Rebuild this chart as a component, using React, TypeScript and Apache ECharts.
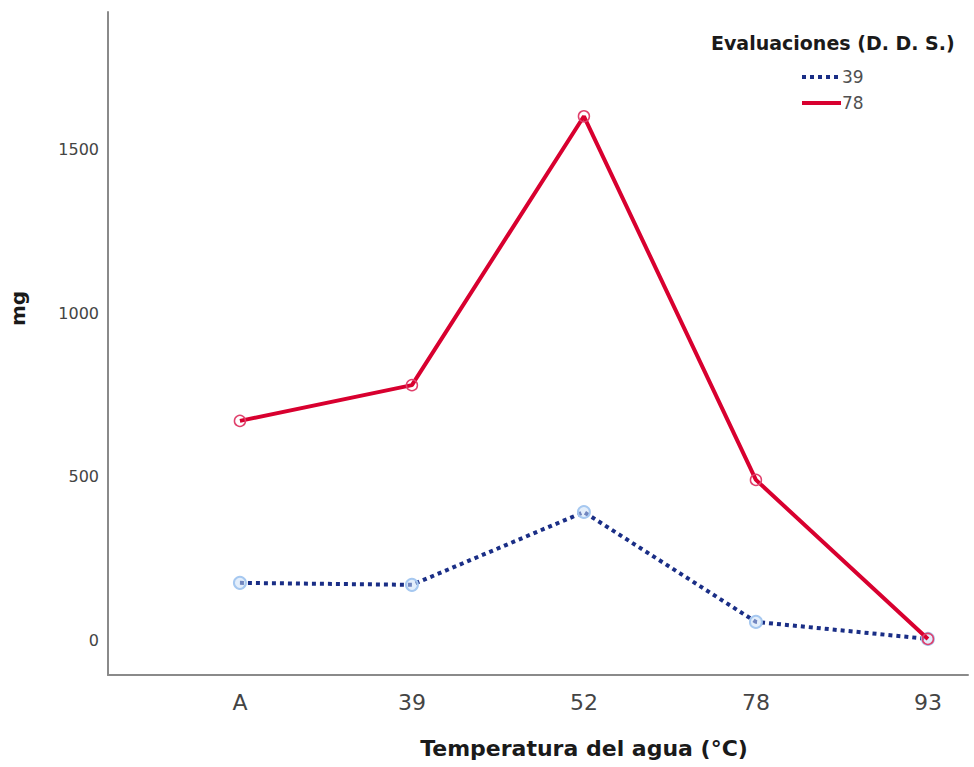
import React, { useEffect, useRef } from "react";
import * as echarts from "echarts";

const categories = ["A", "39", "52", "78", "93"];
const seriesNames = ["39", "78"];
const values39 = [177, 171, 393, 58, 6];
const values78 = [671, 780, 1600, 491, 6];
const yTicks = [0, 500, 1000, 1500];

export default function App() {
  const ref = useRef<HTMLDivElement>(null);
  useEffect(() => {
    if (!ref.current) return;
    const chart = echarts.init(ref.current, undefined, { renderer: "svg" });
    const font = "'DejaVu Sans', 'Liberation Sans', sans-serif";
    const toPairs = (arr: number[]) => arr.map((v, i) => [i, v]);
    chart.setOption({
      animation: false,
      backgroundColor: "#ffffff",
      textStyle: { fontFamily: font },
      grid: { left: 108, right: 6, top: 12, bottom: 92, containLabel: false, outerBoundsMode: "none" },
      xAxis: {
        type: "value",
        min: -0.767,
        max: 4.233,
        splitLine: { show: false },
        axisLine: { show: true, onZero: false, lineStyle: { color: "#8a8a8a", width: 2 } },
        axisTick: { show: false },
        axisLabel: {
          customValues: [0, 1, 2, 3, 4],
          formatter: (v: number) => categories[Math.round(v)] ?? "",
          color: "#444444",
          fontSize: 22,
          margin: 16,
          fontFamily: font,
        },
        name: "Temperatura del agua (°C)",
        nameLocation: "middle",
        nameGap: 62,
        nameTextStyle: { fontSize: 22, fontWeight: "bold", color: "#1a1a1a", fontFamily: font, padding: [0, 0, 0, 92] },
      },
      yAxis: {
        type: "value",
        min: -104,
        max: 1918,
        splitLine: { show: false },
        axisLine: { show: true, onZero: false, lineStyle: { color: "#8a8a8a", width: 2 } },
        axisTick: { show: false },
        axisLabel: {
          customValues: yTicks,
          formatter: (v: number) => String(v),
          color: "#444444",
          fontSize: 16,
          margin: 9,
          fontFamily: font,
        },
        name: "mg",
        nameLocation: "middle",
        nameGap: 80,
        nameRotate: 90,
        nameTextStyle: { fontSize: 20, fontWeight: "bold", color: "#1a1a1a", fontFamily: font, padding: [0, 0, 0, 70] },
      },
      legend: {
        data: seriesNames,
        orient: "vertical",
        left: 795,
        top: 62,
        itemWidth: 39,
        itemHeight: 14,
        itemGap: 6,
        itemStyle: { opacity: 0 },
        lineStyle: { width: 4 },
        textStyle: { fontSize: 17, lineHeight: 20, color: "#505050", fontFamily: font, padding: [0, 0, 0, -4] },
      },
      graphic: [
        {
          type: "text",
          left: 711,
          top: 33,
          style: {
            text: "Evaluaciones (D. D. S.)",
            font: `bold 19px ${font}`,
            fill: "#1a1a1a",
          },
        },
      ],
      series: [
        {
          name: seriesNames[0],
          type: "line",
          data: toPairs(values39),
          symbol: "circle",
          symbolSize: 12,
          showAllSymbol: true,
          lineStyle: { color: "#1a2e86", width: 4, type: [4, 4] },
          itemStyle: { color: "rgba(200,222,248,0.5)", borderColor: "#a6c8f0", borderWidth: 2 },
          z: 2,
        },
        {
          name: seriesNames[1],
          type: "line",
          data: toPairs(values78),
          symbol: "circle",
          symbolSize: 11,
          lineStyle: { color: "#d8002f", width: 4 },
          itemStyle: { color: "rgba(255,255,255,0)", borderColor: "#e0406c", borderWidth: 1.5 },
          z: 3,
        },
      ],
    });
    return () => chart.dispose();
  }, []);
  return <div ref={ref} style={{ width: 974, height: 767, position: "absolute", left: 0, top: 0 }} />;
}
